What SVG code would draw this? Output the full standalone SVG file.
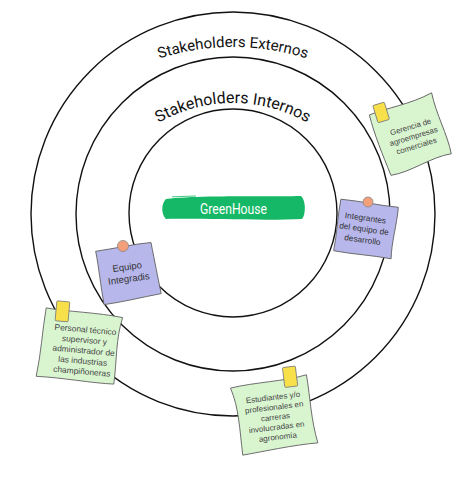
<svg xmlns="http://www.w3.org/2000/svg" width="466" height="484" viewBox="0 0 466 484">
<style>
.ring{fill:none;stroke:#111;stroke-width:1.4}
.arc{font-family:Roboto,"Liberation Sans",sans-serif;font-size:15px;fill:#111}
.gnote{fill:#d9f5d0;stroke:#666;stroke-width:0.9}
.pnote{fill:#b7b7ec;stroke:#666;stroke-width:0.9}
.tape{fill:#f8e04a;stroke:#777;stroke-width:0.8}
.pin{fill:#f3a07a;stroke:#888;stroke-width:0.8}
.nt{font-family:"Liberation Sans",Arial,sans-serif;fill:#444;text-anchor:middle}
</style>
<defs>
<path id="arcExt" d="M 123,73.7 A 240 240 0 0 1 343,73.7"/>
<path id="arcInt" d="M 123,151 A 150 150 0 0 1 343,151"/>
</defs>
<rect width="466" height="484" fill="#fff"/>
<g id="rings">
<circle class="ring" cx="233" cy="214" r="202"/>
<circle class="ring" cx="233" cy="214" r="157"/>
<circle class="ring" cx="233" cy="213" r="104"/>
</g>
<g id="labels">
<text class="arc"><textPath href="#arcExt" startOffset="50%" text-anchor="middle">Stakeholders Externos</textPath></text>
<text class="arc" style="font-size:16px"><textPath href="#arcInt" startOffset="50%" text-anchor="middle">Stakeholders Internos</textPath></text>
</g>
<g id="greenhouse">
<path d="M 166,199 C 200,195 270,197 301,196 C 306,200 306,215 302,219 C 262,221 200,218 166,219 C 161,214 161,204 166,199 Z" fill="#14b866"/>
<path d="M 172,196.8 L 196,196" stroke="#14b866" stroke-width="0.8" fill="none"/>
<text x="233.5" y="214" font-family="Roboto,'Liberation Sans',sans-serif" font-size="14" fill="#fff" text-anchor="middle" textLength="67" lengthAdjust="spacingAndGlyphs">GreenHouse</text>
</g>
<g id="connectors"></g>
<g id="note-gerencia" transform="translate(410,135) rotate(-17)">
<path class="gnote" d="M -33,-31 C -15,-33 8,-29 33,-34 C 31,-12 36,10 34,30 C 14,27 -10,36 -30,33 C -32,10 -34,-10 -33,-31 Z"/>
<rect class="tape" x="-27" y="-39" width="12" height="18" rx="1"/>
<text class="nt" font-size="7.8"><tspan x="3" y="-5">Gerencia de</tspan><tspan x="3" y="5">agroempresas</tspan><tspan x="3" y="15">comerciales</tspan></text>
</g>
<g id="note-integrantes">
<g transform="translate(366,229) rotate(8)">
<path class="pnote" d="M -29,-26 C -10,-27 10,-25 29,-26 C 30,-8 27,10 29,26 C 10,25 -10,27 -29,26 C -28,8 -30,-10 -29,-26 Z"/>
<text class="nt" font-size="8.3" style="fill:#333"><tspan x="-2" y="-8">Integrantes</tspan><tspan x="-2" y="3">del equipo de</tspan><tspan x="-2" y="14">desarrollo</tspan></text>
</g>
<circle class="pin" cx="368" cy="202" r="5"/>
</g>
<g id="note-equipo">
<g transform="translate(128,273) rotate(-8)">
<path class="pnote" d="M -29,-26 C -10,-26 10,-28 27,-27 C 28,-8 29,10 30,25 C 10,26 -10,28 -28,28 C -29,8 -28,-10 -29,-26 Z"/>
<text class="nt" font-size="9.5" style="fill:#333"><tspan x="0" y="-3">Equipo</tspan><tspan x="0" y="9">Integradis</tspan></text>
</g>
<circle class="pin" cx="123" cy="246" r="5.5"/>
</g>
<g id="note-personal" transform="translate(80,346) rotate(5)">
<path class="gnote" d="M -37,-35 C -15,-33 15,-35 40,-32 C 35,-10 38,10 37,35 C 15,36 -15,33 -41,34 C -38,10 -39,-10 -37,-35 Z"/>
<rect class="tape" x="-27" y="-43" width="13" height="20" rx="1"/>
<text class="nt" font-size="8.4"><tspan x="4" y="-14">Personal técnico</tspan><tspan x="4" y="-3.5">supervisor y</tspan><tspan x="4" y="7">administrador de</tspan><tspan x="4" y="17.5">las industrias</tspan><tspan x="4" y="28">champiñoneras</tspan></text>
</g>
<g id="note-estudiantes" transform="translate(274,414) rotate(-7)">
<path class="gnote" d="M -40,-31 C -15,-34 15,-31 37,-35 C 38,-10 36,10 40,34 C 15,33 -15,36 -36,37 C -36,10 -34,-10 -40,-31 Z"/>
<rect class="tape" x="14" y="-45" width="13" height="20" rx="1"/>
<text class="nt" font-size="8"><tspan x="1" y="-14">Estudiantes y/o</tspan><tspan x="1" y="-4">profesionales en</tspan><tspan x="1" y="6">carreras</tspan><tspan x="1" y="16">involucradas en</tspan><tspan x="1" y="26">agronomía</tspan></text>
</g>
</svg>
